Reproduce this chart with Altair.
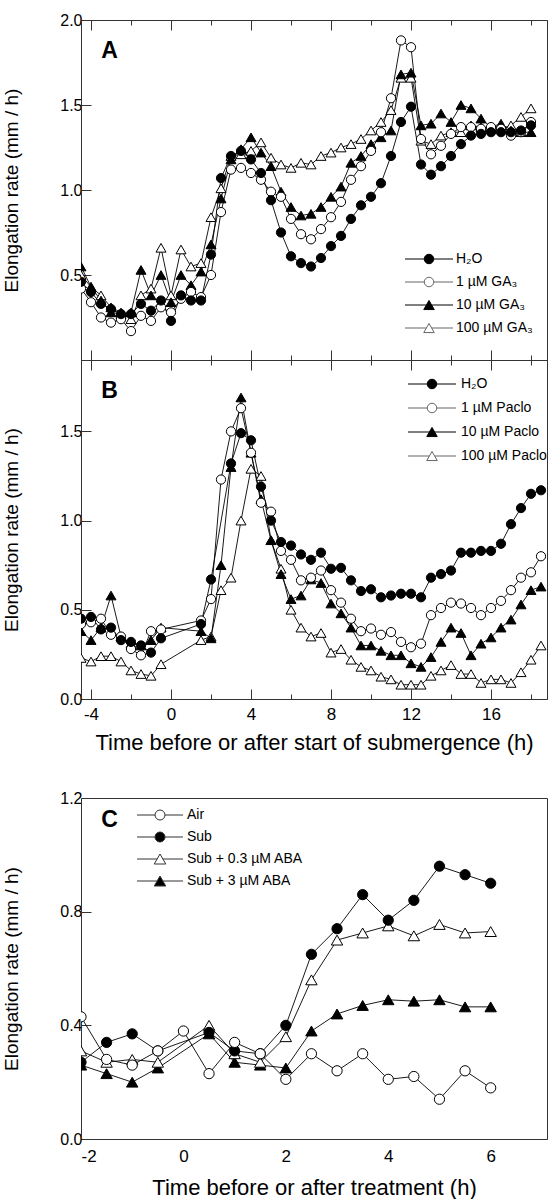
import altair as alt
import pandas as pd

FONT = "Liberation Sans"

# ---------------- Panel A : GA3 ----------------
A_NAMES = ["H\u2082O", "1 \u00b5M GA\u2083", "10 \u00b5M GA\u2083", "100 \u00b5M GA\u2083"]
tA = [-4.5, -4.0, -3.5, -3.0, -2.5, -2.0, -1.5, -1.0, -0.5, 0.0,
      0.5, 1.0, 1.5, 2.0, 2.5, 3.0, 3.5, 4.0, 4.5, 5.0,
      5.5, 6.0, 6.5, 7.0, 7.5, 8.0, 8.5, 9.0, 9.5, 10.0,
      10.5, 11.0, 11.5, 12.0, 12.5, 13.0, 13.5, 14.0, 14.5, 15.0,
      15.5, 16.0, 16.5, 17.0, 17.5, 18.0]
A_H2O = [0.46, 0.40, 0.33, 0.30, 0.27, 0.27, 0.33, 0.29, 0.35, 0.23,
         0.38, 0.35, 0.35, 0.62, 1.07, 1.20, 1.23, 1.18, 1.10, 0.94,
         0.75, 0.61, 0.57, 0.55, 0.60, 0.67, 0.73, 0.83, 0.91, 0.96,
         1.04, 1.20, 1.40, 1.49, 1.15, 1.09, 1.14, 1.20, 1.27, 1.32,
         1.33, 1.34, 1.34, 1.34, 1.35, 1.38]
A_GA1 = [0.42, 0.34, 0.25, 0.22, 0.24, 0.17, 0.26, 0.23, 0.31, 0.28,
         0.36, 0.40, 0.37, 0.50, 0.87, 1.12, 1.13, 1.10, 1.06, 0.99,
         0.96, 0.83, 0.74, 0.71, 0.77, 0.84, 0.93, 1.06, 1.14, 1.23,
         1.34, 1.54, 1.88, 1.84, 1.30, 1.21, 1.26, 1.33, 1.37, 1.37,
         1.36, 1.37, 1.36, 1.32, 1.34, 1.40]
A_GA10 = [0.55, 0.43, 0.35, 0.28, 0.27, 0.28, 0.53, 0.38, 0.50, 0.34,
          0.50, 0.44, 0.52, 0.68, 0.95, 1.18, 1.24, 1.31, 1.22, 1.14,
          0.99, 0.90, 0.85, 0.86, 0.90, 0.96, 1.02, 1.16, 1.20, 1.27,
          1.31, 1.35, 1.68, 1.69, 1.38, 1.39, 1.45, 1.40, 1.50, 1.48,
          1.42, 1.37, 1.39, 1.35, 1.34, 1.34]
A_GA100 = [0.50, 0.43, 0.38, 0.31, 0.28, 0.24, 0.38, 0.42, 0.66, 0.38,
           0.65, 0.55, 0.57, 0.84, 1.01, 1.20, 1.21, 1.23, 1.28, 1.19,
           1.15, 1.13, 1.16, 1.15, 1.20, 1.22, 1.25, 1.27, 1.30, 1.35,
           1.40, 1.47, 1.66, 1.66, 1.29, 1.27, 1.32, 1.34, 1.34, 1.38,
           1.37, 1.36, 1.36, 1.38, 1.43, 1.48]

# ---------------- Panel B : Paclobutrazol ----------------
B_NAMES = ["H\u2082O", "1 \u00b5M Paclo", "10 \u00b5M Paclo", "100 \u00b5M Paclo"]
tB = [-4.5, -4.0, -3.5, -3.0, -2.5, -2.0, -1.5, -1.0, -0.5,
      1.5, 2.0, 2.5, 3.0, 3.5, 4.0, 4.5, 5.0, 5.5, 6.0,
      6.5, 7.0, 7.5, 8.0, 8.5, 9.0, 9.5, 10.0, 10.5, 11.0,
      11.5, 12.0, 12.5, 13.0, 13.5, 14.0, 14.5, 15.0, 15.5, 16.0,
      16.5, 17.0, 17.5, 18.0, 18.5]
B_H2O = [0.45, 0.46, 0.39, 0.40, 0.33, 0.32, 0.30, 0.26, 0.34,
         0.42, 0.67, None, 1.32, 1.49, 1.45, 1.19, 1.00, 0.88, 0.86,
         0.81, 0.78, 0.82, 0.73, 0.735, 0.665, 0.605, 0.615, 0.57, 0.58,
         0.59, 0.59, 0.57, 0.68, 0.70, 0.72, 0.82, 0.82, 0.83, 0.83,
         0.87, 0.98, 1.07, 1.15, 1.17]
B_P1 = [0.42, 0.43, 0.45, 0.36, 0.35, 0.28, 0.245, 0.38, 0.39,
        0.44, 0.56, 1.23, 1.50, 1.63, 1.38, 1.10, 1.05, 0.83, 0.78,
        0.665, 0.68, 0.72, 0.61, 0.54, 0.45, 0.38, 0.395, 0.36, 0.375,
        0.32, 0.29, 0.31, 0.47, 0.51, 0.54, 0.535, 0.51, 0.47, 0.51,
        0.55, 0.61, 0.68, 0.71, 0.80]
B_P10 = [0.38, 0.33, 0.40, 0.58, 0.35, 0.31, 0.30, 0.33, 0.40,
         0.38, 0.34, 0.75, 1.30, 1.69, 1.38, 1.12, 0.89, 0.70, 0.56,
         0.58, 0.67, 0.65, 0.535, 0.48, 0.40, 0.30, 0.30, 0.27, 0.245,
         0.245, 0.20, 0.18, 0.235, 0.32, 0.40, 0.37, 0.245, 0.31, 0.345,
         0.40, 0.445, 0.53, 0.61, 0.63]
B_P100 = [0.23, 0.21, 0.24, 0.24, 0.21, 0.16, 0.14, 0.13, 0.195,
          0.33, 0.35, 0.61, 0.68, 1.00, 1.29, 1.25, 0.89, 0.73, 0.50,
          0.40, 0.35, 0.37, 0.26, 0.28, 0.22, 0.18, 0.16, 0.125, 0.11,
          0.08, 0.08, 0.08, 0.13, 0.16, 0.19, 0.14, 0.14, 0.09, 0.11,
          0.11, 0.09, 0.15, 0.22, 0.30]

# ---------------- Panel C : ABA ----------------
C_NAMES = ["Air", "Sub", "Sub + 0.3 \u00b5M ABA", "Sub + 3 \u00b5M ABA"]
tC = [-2.0, -1.5, -1.0, -0.5, 0.0, 0.5, 1.0, 1.5, 2.0, 2.5, 3.0, 3.5, 4.0, 4.5, 5.0, 5.5, 6.0]
C_AIR = [0.43, 0.28, 0.26, 0.31, 0.38, 0.23, 0.34, 0.30, 0.21, 0.30, 0.24, 0.30, 0.21, 0.22, 0.14, 0.24, 0.18]
C_SUB = [0.27, 0.34, 0.37, 0.31, None, 0.375, 0.31, 0.30, 0.40, 0.65, 0.74, 0.86, 0.77, 0.84, 0.96, 0.93, 0.90]
C_ABA03 = [0.31, 0.27, 0.28, 0.27, None, 0.40, 0.30, 0.27, 0.36, 0.56, 0.70, 0.725, 0.75, 0.715, 0.755, 0.725, 0.73]
C_ABA3 = [0.26, 0.23, 0.20, 0.25, None, 0.37, 0.27, 0.26, 0.25, 0.38, 0.44, 0.47, 0.49, 0.485, 0.49, 0.465, 0.465]

MAJOR = [-4, 0, 4, 8, 12, 16]
MINOR = [-2, 2, 6, 10, 14, 18]


def long_df(t, series, names):
    rows = []
    for name, vals in zip(names, series):
        for ti, vi in zip(t, vals):
            if vi is not None:
                rows.append({"t": ti, "v": vi, "s": name})
    return pd.DataFrame(rows)


def circle_path(r, half):
    k = round(0.5523 * r, 3)
    return (f"M{-half},0L{-r},0M{r},0L{half},0"
            f"M{r},0C{r},{k},{k},{r},0,{r}C{-k},{r},{-r},{k},{-r},0"
            f"C{-r},{-k},{-k},{-r},0,{-r}C{k},{-r},{r},{-k},{r},0Z")


def tri_path(w, h, half):
    xe = round(w / 2, 3)
    return (f"M{-half},0L{-xe},0M{xe},0L{half},0"
            f"M0,{-h}L{w},{h}L{-w},{h}Z")


def x_axis(values, size, orient, labels=False, title=None):
    kw = dict(values=values, orient=orient, tickSize=alt.ExprRef("-" + str(size)),
              labels=labels, domain=True)
    if labels:
        kw.update(labelExpr="datum.value + ''", labelPadding=17, labelFontSize=17)
    if title is not None:
        kw.update(title=title, titleFontSize=22, titlePadding=10)
    else:
        kw.update(title=None)
    return alt.Axis(**kw)


def panel(df, names, fills, shapes, sizes, leg_paths, leg_strokes, xdom, ydom, yvals, h,
          x_axes, leg_x, leg_y, leg_off, leg_pad, label, label_y):
    sx = alt.Scale(domain=xdom, nice=False, zero=False)
    sy = alt.Scale(domain=ydom, nice=False, zero=False)
    yaxis = alt.Axis(values=yvals, format=".1f", tickSize=alt.ExprRef("-10"),
                     labelPadding=9, labelFontSize=16,
                     title="Elongation rate (mm / h)", titleFontSize=19,
                     titlePadding=38)
    axes = list(x_axes) + [None] * (6 - len(x_axes))
    base = alt.Chart(df)
    layers = [base.mark_line(color="black", strokeWidth=0.9, clip=True).encode(
        x=alt.X("t:Q", scale=sx, axis=axes[0]),
        y=alt.Y("v:Q", scale=sy, axis=yaxis),
        detail="s:N",
    )]
    # points: one layer per marker style, last series drawn first
    order = [3, 2, 1, 0]
    for k, i in enumerate(order):
        layers.append(
            base.transform_filter(alt.FieldEqualPredicate(field="s", equal=names[i]))
            .mark_point(shape=shapes[i], filled=True, fill=fills[i], stroke="black",
                        strokeWidth=1, size=sizes[i], opacity=1, clip=True)
            .encode(
                x=alt.X("t:Q", scale=sx, axis=axes[k + 1]),
                y=alt.Y("v:Q", scale=sy, axis=yaxis),
            )
        )
    leg = alt.Legend(title=None, orient="none", legendX=leg_x, legendY=leg_y,
                     symbolSize=100, symbolStrokeWidth=1, symbolStrokeColor="black",
                     symbolOpacity=1, labelFont=FONT, labelFontSize=14,
                     labelColor="black", labelOffset=leg_off, rowPadding=leg_pad,
                     padding=0, labelLimit=0)
    layers.append(
        base.transform_filter("datum.t > 1000")
        .mark_point(filled=True, opacity=1, strokeWidth=1)
        .encode(
            x=alt.X("t:Q", scale=sx, axis=None),
            y=alt.Y("v:Q", scale=sy, axis=yaxis),
            shape=alt.Shape("s:N", scale=alt.Scale(domain=names, range=leg_paths), legend=leg),
            fill=alt.Fill("s:N", scale=alt.Scale(domain=names, range=fills), legend=leg),
            stroke=alt.Stroke("s:N", scale=alt.Scale(domain=names, range=leg_strokes), legend=leg),
        )
    )
    # panel letter
    layers.append(
        alt.Chart(pd.DataFrame({"lab": [label]})).mark_text(
            font=FONT, fontSize=23, fontWeight="bold", color="black",
            align="center", baseline="alphabetic",
        ).encode(text="lab:N", x=alt.value(28.5), y=alt.value(label_y))
    )
    return alt.layer(*layers).resolve_axis(x="independent").properties(width=466, height=h)


CIRC = circle_path(0.95, 4.8)
TRI = tri_path(1.05, 0.91, 4.8)
CIRC_C = circle_path(1.0, 4.6)
TRI_C = tri_path(1.15, 1.0, 4.6)

dfA = long_df(tA, [A_H2O, A_GA1, A_GA10, A_GA100], A_NAMES)
dfB = long_df(tB, [B_H2O, B_P1, B_P10, B_P100], B_NAMES)
dfC = long_df(tC, [C_AIR, C_SUB, C_ABA03, C_ABA3], C_NAMES)

FILLS_AB = ["black", "white", "black", "white"]
SHAPES_AB = ["circle", "circle", "triangle-up", "triangle-up"]
STROKES_AB = ["black", "#666666", "black", "#666666"]

chartA = panel(
    dfA, A_NAMES, FILLS_AB, SHAPES_AB, [85, 85, 100, 100],
    [CIRC, CIRC, TRI, TRI], STROKES_AB, [-4.5, 18.8], [0, 2.0], [0.5, 1.0, 1.5, 2.0], 340,
    [x_axis(MAJOR, 10, "bottom"), x_axis(MINOR, 5, "bottom"),
     x_axis(MAJOR, 10, "top"), x_axis(MINOR, 5, "top")],
    341, 232, 20, 9, "A", 38.3,
)
chartB = panel(
    dfB, B_NAMES, FILLS_AB, SHAPES_AB, [85, 85, 100, 100],
    [CIRC, CIRC, TRI, TRI], STROKES_AB, [-4.5, 18.8], [0, 1.9], [0.0, 0.5, 1.0, 1.5], 339,
    [x_axis(MAJOR, 10, "bottom", labels=True,
            title="Time before or after start of submergence (h)"),
     x_axis(MINOR, 5, "bottom"),
     x_axis(MAJOR, 10, "top"), x_axis(MINOR, 5, "top")],
    344, 17, 22, 10, "B", 38.3,
)
chartC = panel(
    dfC, C_NAMES, ["white", "black", "white", "black"],
    ["circle", "circle", "triangle-up", "triangle-up"], [105, 105, 130, 130],
    [CIRC_C, CIRC_C, TRI_C, TRI_C], ["#333333"] * 4, [-2, 7.1], [0, 1.2],
    [0.0, 0.4, 0.8, 1.2], 341,
    [alt.Axis(values=[-2, 0, 2, 4, 6], ticks=False, labelExpr="datum.value + ''",
              labelPadding=9, labelFontSize=17,
              title="Time before or after treatment (h)", titleFontSize=22,
              titlePadding=13)],
    72, 10, 20, 8, "C", 29.3,
)

# empty gap between panel B (with its axis titles) and panel C
gap = alt.Chart(pd.DataFrame({"t": [0]})).mark_point(opacity=0).encode(
    x=alt.X("t:Q", axis=None), y=alt.Y("t:Q", axis=None)
).properties(width=466, height=99, view=alt.ViewBackground(stroke="transparent"))

chart = alt.vconcat(chartA, chartB, gap, chartC, spacing=0, bounds="flush").resolve_scale(
    shape="independent", fill="independent", stroke="independent"
).properties(
    padding={"left": 2, "top": 11, "right": 0, "bottom": 0},
).configure(font=FONT).configure_view(
    stroke="#333", strokeWidth=1
).configure_axis(
    grid=False, domainColor="#333", tickColor="#333", labelColor="black",
    labelFont=FONT, titleFont=FONT, titleFontWeight="normal", titleColor="black",
    tickWidth=1, domainWidth=1,
)

chart.save("out.html", embed_options={"renderer": "svg", "actions": False})
